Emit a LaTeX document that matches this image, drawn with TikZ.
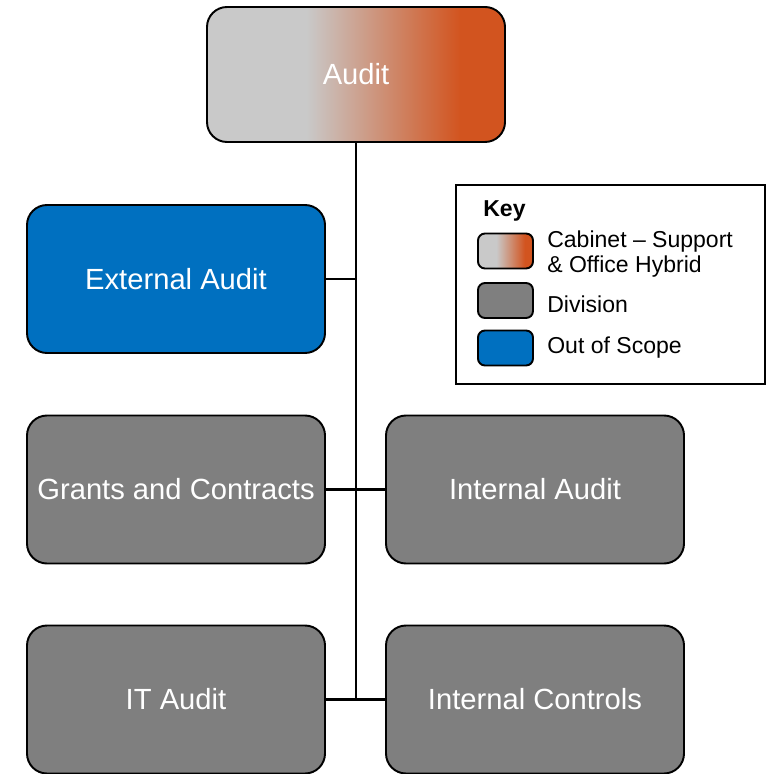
\documentclass[tikz,border=0pt]{standalone}
\usepackage{fontspec}
\setmainfont{Liberation Sans}
\usetikzlibrary{positioning}
\definecolor{cablight}{HTML}{C9C9C9}
\definecolor{caborange}{HTML}{D2541F}
\definecolor{divgray}{HTML}{7F7F7F}
\definecolor{scopeblue}{HTML}{0070C0}
\pgfdeclarehorizontalshading{cabinetshade}{100bp}{color(0bp)=(cablight); color(41.7bp)=(cablight); color(67.5bp)=(caborange); color(100bp)=(caborange)}
\tikzset{
  unit/.style={draw=black,line width=1.1pt,rounded corners=0.4cm,minimum width=5.96cm,minimum height=2.96cm,
    text=white,font=\fontsize{16.6}{19}\selectfont,inner sep=2pt},
  cabinet/.style={unit,shading=cabinetshade,minimum height=2.7cm},
  division/.style={unit,fill=divgray},
  outscope/.style={unit,fill=scopeblue},
  swatch/.style={draw=black,line width=1.1pt,rounded corners=0.14cm,minimum width=1.1cm,minimum height=0.7cm,inner sep=0pt},
  keytext/.style={font=\fontsize{13.1}{14.2}\selectfont,align=left,inner sep=0pt},
  link/.style={line width=1.4pt},
}
\begin{document}
\begin{tikzpicture}
  \useasboundingbox (0,0) rectangle (15.34,-15.48);
  \node[cabinet]  (audit)    at (7.12,-1.49)  {Audit};
  \node[outscope] (ext)      at (3.52,-5.58)  {External Audit};
  \node[division] (grants)   at (3.52,-9.79)  {Grants and Contracts};
  \node[division] (intaudit) at (10.70,-9.79) {Internal Audit};
  \node[division] (itaudit)  at (3.52,-13.99) {IT Audit};
  \node[division] (intctrl)  at (10.70,-13.99) {Internal Controls};
  \coordinate (trunk) at (audit.south |- itaudit.east);
  \draw[link] (audit.south) -- (trunk);
  \draw[link] (ext.east) -- (ext.east -| audit.south);
  \draw[link] (grants.east) -- (intaudit.west);
  \draw[link] (itaudit.east) -- (intctrl.west);
  % key
  \node[draw=black,line width=0.8pt,minimum width=6.18cm,minimum height=3.98cm] (keybox) at (12.21,-5.69) {};
  \node[keytext,font=\fontsize{13.1}{14.2}\selectfont\bfseries,anchor=west] (keytitle) at (9.66,-4.22) {Key};
  \node[swatch,shading=cabinetshade] (swcab)   at (10.11,-5.02) {};
  \node[swatch,fill=divgray]         (swdiv)   at (10.11,-6.01) {};
  \node[swatch,fill=scopeblue]       (swscope) at (10.11,-6.96) {};
  \node[keytext,right=0.26cm of swcab,yshift=-0.07cm]  (lbcab)   {Cabinet -- Support\\\& Office Hybrid};
  \node[keytext,right=0.26cm of swdiv,yshift=-0.08cm]  (lbdiv)   {Division};
  \node[keytext,right=0.26cm of swscope]               (lbscope) {Out of Scope};
\end{tikzpicture}
\end{document}
